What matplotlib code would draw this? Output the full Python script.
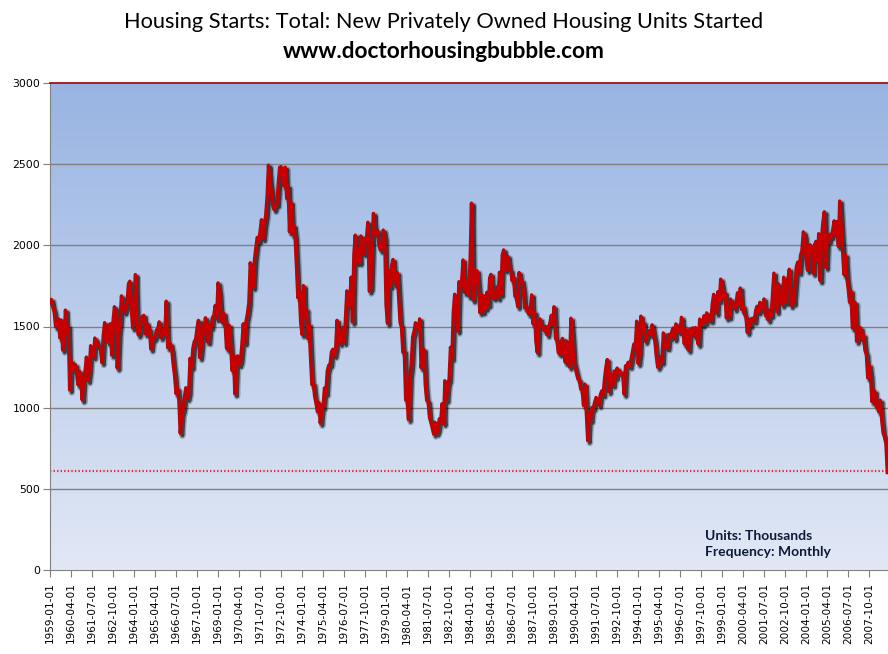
import matplotlib
matplotlib.use("Agg")
import matplotlib.pyplot as plt
import matplotlib.patheffects as pe
import numpy as np

# monthly housing starts, thousands (SAAR), 1959-01 .. 2008-11
starts = [
    1657, 1667, 1620, 1590, 1498, 1503, 1547, 1430, 1540, 1355, 1416, 1601,  # 1959
    1460, 1503, 1109, 1289, 1266, 1231, 1266, 1212, 1141, 1226, 1168, 1047,  # 1960
    1183, 1226, 1312, 1166, 1228, 1382, 1335, 1312, 1429, 1415, 1385, 1365,  # 1961
    1361, 1278, 1443, 1524, 1483, 1404, 1450, 1517, 1324, 1533, 1622, 1564,  # 1962
    1244, 1456, 1534, 1689, 1641, 1588, 1614, 1639, 1763, 1779, 1622, 1491,  # 1963
    1603, 1820, 1517, 1448, 1467, 1550, 1562, 1569, 1455, 1524, 1486, 1484,  # 1964
    1361, 1433, 1423, 1438, 1478, 1488, 1529, 1432, 1482, 1452, 1460, 1656,  # 1965
    1370, 1378, 1394, 1352, 1265, 1194, 1086, 1119, 1046, 843, 961, 990,     # 1966
    1067, 1123, 1056, 1091, 1304, 1248, 1364, 1407, 1421, 1491, 1538, 1308,  # 1967
    1380, 1520, 1466, 1554, 1408, 1405, 1512, 1495, 1556, 1569, 1630, 1548,  # 1968
    1769, 1705, 1561, 1524, 1583, 1528, 1368, 1358, 1507, 1381, 1229, 1327,  # 1969
    1085, 1305, 1319, 1264, 1290, 1385, 1517, 1399, 1534, 1580, 1647, 1893,  # 1970
    1828, 1741, 1910, 1986, 2049, 2026, 2083, 2158, 2041, 2128, 2182, 2295,  # 1971
    2494, 2390, 2334, 2249, 2221, 2254, 2252, 2382, 2481, 2485, 2421, 2366,  # 1972
    2481, 2289, 2365, 2084, 2266, 2067, 2123, 2051, 1874, 1677, 1724, 1526,  # 1973
    1451, 1752, 1555, 1607, 1426, 1513, 1316, 1142, 1150, 1070, 1026, 975,   # 1974
    1032, 904, 993, 1005, 1121, 1087, 1226, 1260, 1264, 1344, 1360, 1321,    # 1975
    1367, 1538, 1421, 1395, 1459, 1495, 1401, 1550, 1720, 1629, 1641, 1804,  # 1976
    1527, 1943, 2063, 1892, 1971, 1893, 2058, 2020, 1949, 2042, 2042, 2142,  # 1977
    1718, 1738, 2032, 2197, 2075, 2070, 2092, 1996, 1970, 1981, 2094, 2044,  # 1978
    1630, 1520, 1847, 1748, 1876, 1913, 1760, 1778, 1832, 1681, 1524, 1498,  # 1979
    1341, 1350, 1047, 1051, 927, 1196, 1269, 1436, 1471, 1523, 1510, 1482,   # 1980
    1547, 1246, 1306, 1360, 1140, 1045, 1041, 940, 911, 873, 837, 910,       # 1981
    843, 866, 931, 917, 1025, 902, 1166, 1046, 1144, 1173, 1372, 1303,       # 1982
    1586, 1699, 1606, 1472, 1776, 1733, 1785, 1910, 1710, 1715, 1785, 1688,  # 1983
    1897, 2260, 1663, 1851, 1774, 1843, 1732, 1586, 1698, 1590, 1689, 1612,  # 1984
    1711, 1632, 1800, 1821, 1680, 1676, 1684, 1743, 1676, 1834, 1698, 1942,  # 1985
    1972, 1848, 1876, 1933, 1854, 1847, 1782, 1807, 1687, 1681, 1623, 1833,  # 1986
    1774, 1784, 1726, 1614, 1628, 1594, 1575, 1605, 1695, 1515, 1589, 1409,  # 1987
    1339, 1531, 1547, 1499, 1497, 1474, 1501, 1449, 1497, 1522, 1569, 1513,  # 1988
    1622, 1425, 1422, 1339, 1331, 1397, 1427, 1332, 1279, 1410, 1351, 1251,  # 1989
    1551, 1437, 1289, 1248, 1212, 1177, 1171, 1115, 1110, 1014, 1145, 969,   # 1990
    798, 965, 921, 1001, 996, 1036, 1063, 1049, 1015, 1079, 1103, 1079,      # 1991
    1176, 1250, 1297, 1099, 1214, 1145, 1139, 1226, 1186, 1244, 1214, 1227,  # 1992
    1210, 1210, 1083, 1258, 1260, 1280, 1254, 1300, 1343, 1392, 1376, 1533,  # 1993
    1272, 1337, 1564, 1465, 1526, 1409, 1439, 1450, 1474, 1450, 1511, 1455,  # 1994
    1407, 1316, 1249, 1267, 1314, 1281, 1461, 1416, 1369, 1369, 1452, 1431,  # 1995
    1467, 1491, 1424, 1516, 1504, 1467, 1472, 1557, 1475, 1392, 1489, 1370,  # 1996
    1355, 1486, 1457, 1492, 1442, 1494, 1437, 1390, 1546, 1520, 1510, 1566,  # 1997
    1525, 1584, 1567, 1540, 1536, 1641, 1698, 1614, 1582, 1715, 1660, 1792,  # 1998
    1748, 1670, 1710, 1553, 1611, 1559, 1669, 1648, 1635, 1608, 1648, 1708,  # 1999
    1636, 1737, 1604, 1626, 1575, 1559, 1463, 1541, 1507, 1549, 1551, 1532,  # 2000
    1600, 1625, 1590, 1649, 1605, 1636, 1670, 1567, 1562, 1540, 1602, 1568,  # 2001
    1698, 1829, 1642, 1592, 1764, 1717, 1655, 1633, 1804, 1648, 1753, 1788,  # 2002
    1853, 1629, 1726, 1643, 1751, 1867, 1897, 1833, 1939, 1967, 2083, 2057,  # 2003
    1911, 1846, 1998, 2003, 1981, 1828, 2002, 2024, 1905, 2072, 1782, 2042,  # 2004
    2144, 2207, 1864, 2061, 2025, 2068, 2054, 2095, 2151, 2065, 2147, 1994,  # 2005
    2273, 2119, 1969, 1821, 1942, 1802, 1737, 1650, 1720, 1491, 1570, 1649,  # 2006
    1409, 1480, 1495, 1490, 1415, 1448, 1354, 1330, 1183, 1264, 1197, 1037,  # 2007
    1084, 1103, 1005, 1013, 973, 1046, 923, 844, 820, 777, 600,              # 2008
]
latest_level = 610

start_year = 1959
label_step = 15
n = len(starts)
x = np.arange(n)

tick_pos = list(range(0, n, label_step))
tick_labels = ["{}-{:02d}-01".format(start_year + p // 12, p % 12 + 1) for p in tick_pos]

fig = plt.figure(figsize=(8.88, 6.54), dpi=100)
ax = fig.add_axes([50 / 888, 1 - 570 / 654, 838 / 888, 487 / 654])

# gradient background of the plot area
grad = np.linspace(0, 1, 256).reshape(-1, 1)
top = np.array([0x98, 0xB4, 0xE2]) / 255
bot = np.array([0xE2, 0xE8, 0xF5]) / 255
img = top + (bot - top) * grad[:, :, None]
ax.imshow(img, extent=[-1, n + 1, 0, 3000], aspect="auto", origin="upper", zorder=0)

ax.set_xlim(0, n - 0.5)
ax.set_ylim(0, 3000)

for yv in range(500, 3000, 500):
    ax.axhline(yv, color="#808080", lw=1.0, zorder=1)

ax.axhline(latest_level, color="#E8262A", lw=1.6, ls=(0, (0.6, 1.0)), zorder=2)

# soft dark shadow under the series, then the series itself
shadow = [pe.SimpleLineShadow(offset=(1.6, -1.8), shadow_color="black", alpha=0.25, linewidth=4.6),
          pe.SimpleLineShadow(offset=(1.6, -1.8), shadow_color="black", alpha=0.6, linewidth=2.6),
          pe.Normal()]
ax.plot(x, starts, color="#C40000", lw=2.4, solid_joinstyle="round", zorder=4,
        path_effects=shadow)

ax.set_yticks(range(0, 3001, 500))
ax.set_xticks(tick_pos)
ax.set_xticklabels(tick_labels, rotation=90, fontsize=7.6, family="DejaVu Sans")
ax.tick_params(axis="y", labelsize=7.8, length=5, color="#808080", pad=2)
ax.tick_params(axis="x", length=5, color="#808080", pad=4)

for s in ["left", "bottom"]:
    ax.spines[s].set_color("#808080")
ax.spines["right"].set_visible(False)
ax.spines["top"].set_color("#A00000")
ax.spines["top"].set_linewidth(1.2)

fig.text(0.5, 1 - 22 / 654, "Housing Starts: Total: New Privately Owned Housing Units Started",
         ha="center", va="center", fontsize=15.7, family="Lato")
fig.text(0.5, 1 - 52 / 654, "www.doctorhousingbubble.com",
         ha="center", va="center", fontsize=16.3, family="Lato", fontweight="bold")

ax.text(0.782, 0.053, "Units: Thousands\nFrequency: Monthly", transform=ax.transAxes,
        ha="left", va="center", fontsize=10, family="Lato", fontweight="bold",
        color="#0F1A3A", linespacing=1.4, zorder=5)

fig.savefig("out.png", dpi=100)
